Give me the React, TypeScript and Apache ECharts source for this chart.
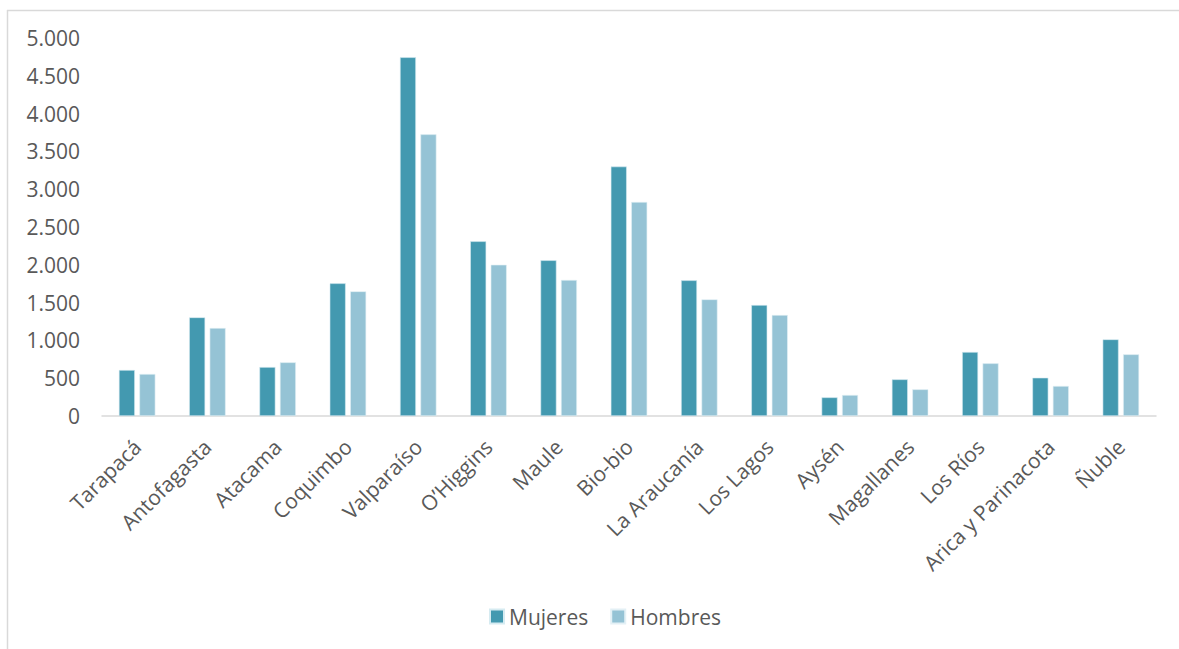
import React, { useEffect, useRef } from "react";
import * as echarts from "echarts";

const categories = [
  "Tarapacá", "Antofagasta", "Atacama", "Coquimbo", "Valparaíso", "O’Higgins", "Maule",
  "Bio-bio", "La Araucanía", "Los Lagos", "Aysén", "Magallanes", "Los Ríos",
  "Arica y Parinacota", "Ñuble",
];
const mujeres = [608, 1305, 648, 1755, 4745, 2311, 2060, 3300, 1795, 1468, 247, 485, 847, 507, 1014];
const hombres = [556, 1164, 710, 1649, 3726, 2001, 1799, 2831, 1543, 1336, 278, 353, 697, 397, 816];
const yTicks = { min: 0, max: 5000, interval: 500 };

const fmt = (v: number) => String(v).replace(/\B(?=(\d{3})+(?!\d))/g, ".");

export default function App() {
  const ref = useRef<HTMLDivElement>(null);
  useEffect(() => {
    if (!ref.current) return;
    const chart = echarts.init(ref.current, undefined, { renderer: "svg" });
    const font = "'Open Sans', 'Noto Sans', sans-serif";
    chart.setOption({
      animation: false,
      backgroundColor: "#ffffff",
      textStyle: { fontFamily: font },
      graphic: [
        {
          type: "line",
          shape: { x1: 7, y1: 10.5, x2: 1179, y2: 10.5 },
          style: { stroke: "#d9d9d9", lineWidth: 1.5 },
          silent: true,
        },
        {
          type: "line",
          shape: { x1: 7.5, y1: 10, x2: 7.5, y2: 649 },
          style: { stroke: "#d9d9d9", lineWidth: 1.5 },
          silent: true,
        },
      ],
      grid: { left: 102, right: 23, top: 38, bottom: 233, containLabel: false },
      legend: {
        left: 489,
        top: 606,
        padding: 0,
        itemWidth: 14,
        itemHeight: 14,
        itemGap: 22,
        icon: "rect",
        textStyle: { fontSize: 21, color: "#595959", fontFamily: font },
        data: ["Mujeres", "Hombres"],
      },
      xAxis: {
        type: "category",
        data: categories,
        axisLine: { show: true, lineStyle: { color: "#d9d9d9", width: 1.5 } },
        axisTick: { show: false },
        axisLabel: {
          interval: 0,
          rotate: 45,
          margin: 27,
          fontSize: 21,
          color: "#595959",
          fontFamily: font,
        },
      },
      yAxis: {
        type: "value",
        min: yTicks.min,
        max: yTicks.max,
        interval: yTicks.interval,
        splitLine: { show: false },
        axisLine: { show: false },
        axisTick: { show: false },
        axisLabel: {
          margin: 22,
          fontSize: 21,
          color: "#595959",
          fontFamily: font,
          formatter: (v: number) => fmt(v),
        },
      },
      series: [
        {
          name: "Mujeres",
          type: "bar",
          data: mujeres,
          barWidth: 16,
          barGap: "28%",
          itemStyle: { color: "#4399b0", borderColor: "#d6ebf1", borderWidth: 0.6 },
        },
        {
          name: "Hombres",
          type: "bar",
          data: hombres,
          barWidth: 16,
          itemStyle: { color: "#95c3d5", borderColor: "#e3f0f5", borderWidth: 0.6 },
        },
      ],
    });
    return () => chart.dispose();
  }, []);
  return (
    <div
      ref={ref}
      style={{ position: "fixed", left: 0, top: 0, width: 1179, height: 649 }}
    />
  );
}
